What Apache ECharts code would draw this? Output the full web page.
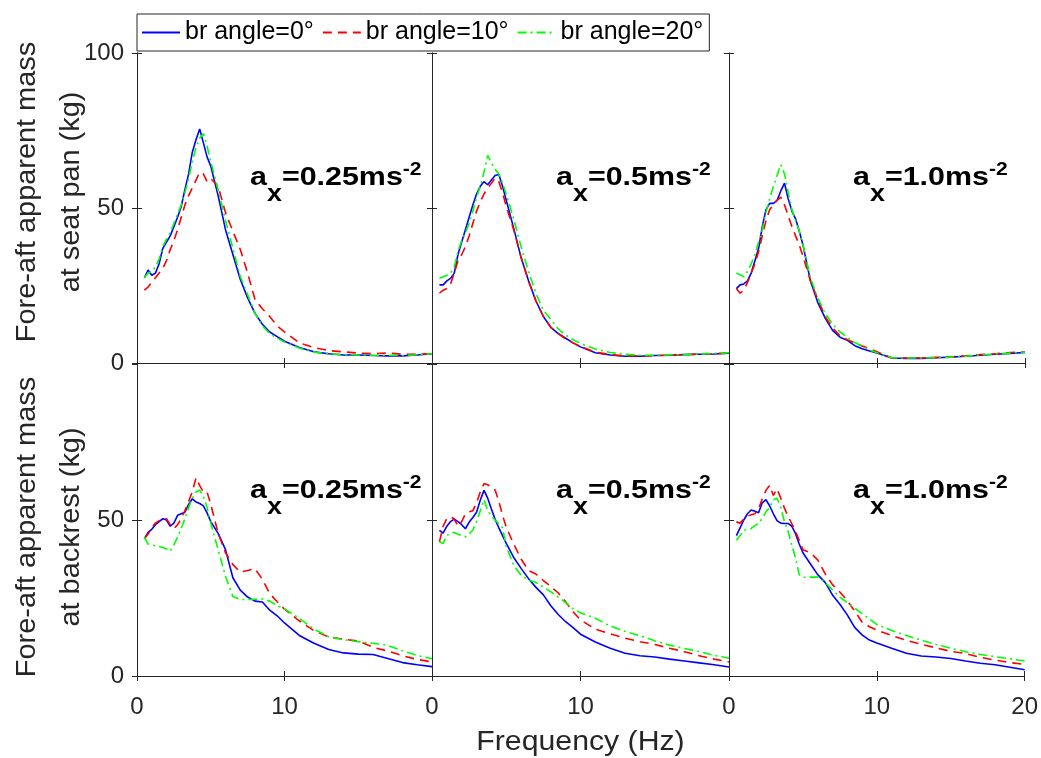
<!DOCTYPE html>
<html>
<head>
<meta charset="utf-8">
<script src="https://cdn.jsdelivr.net/npm/echarts@6/dist/echarts.min.js"></script>
<style>
html,body{margin:0;padding:0;background:#fff;}
#chart{width:1041px;height:758px;}
</style>
</head>
<body>
<div id="chart"></div>
<script>
// ---- data ----
const freq = [0.5,0.75,1,1.25,1.5,1.75,2,2.25,2.5,2.75,3,3.25,3.5,3.75,4,4.25,4.5,4.75,5,5.5,6,6.5,7,7.5,8,8.5,9,9.5,10,11,12,13,14,15,16,17,18,19,20];
const legendNames = ['br angle=0°','br angle=10°','br angle=20°'];
const accelLabels = ['0.25','0.5','1.0'];
const yAxisNames = ['Fore-aft apparent mass\nat seat pan (kg)','Fore-aft apparent mass\nat backrest (kg)'];
const xAxisName = 'Frequency (Hz)';

// seat pan, a = 0.25
const seat025_br0  = [27.5,30,28.3,29,32,37,39,41,44,47,50.5,56,61,68,72,75.5,71,66.5,63.5,54,43,35,27,21,16,12.5,10,8.5,7,5,3.6,3,2.6,2.6,2.4,2.3,2.3,2.6,3];
const seat025_br10 = [23.5,24.5,26,27.5,29,30.5,33,36.5,39.5,43,47,51,54,56.5,59,61.5,61,58.5,59.5,57,48.5,42.5,36.7,29,20.5,17.5,15,12,10,6.5,5,4,3.6,3.2,3,3.2,2.8,2.8,3];
const seat025_br20 = [27.5,29,29.5,31,33.5,37.5,40,42,45,48,51,55,59.5,65,69.5,72.5,74,70,65,56,46,37,28,22,16,12,9.5,8,6.8,4.8,3.5,3,2.7,2.6,2.5,2.5,2.4,2.6,3];
// seat pan, a = 0.5
const seat05_br0  = [25.2,25.2,26.5,27.3,29,35,39,43,47,51,54.5,57,58.5,57.5,59,60.5,60.8,57,52.5,43.5,34,26.5,20,15,11.5,9.5,8,6.5,5.2,3.3,2.6,2.2,2.2,2.4,2.5,2.7,2.8,2.9,3.2];
const seat05_br10 = [22.5,23.5,24,25.5,29,33,35,37.5,41,45,49,52,54.5,56.5,58,59.6,58.5,55,50.5,43,34,26.5,20,15,11.5,9.5,7.8,6.5,5.3,3.5,2.7,2.3,2.3,2.4,2.5,2.7,2.9,3,3.2];
const seat05_br20 = [27.3,27.8,28.3,29,31,36,39.5,42,45,49,53.5,57,61.5,67,64.5,62.5,61,58,54.5,46.5,37.5,29.5,22.5,17,14,11,9,7.5,6.3,4.5,3.4,2.8,2.5,2.5,2.6,2.7,2.9,3.1,3.3];
// seat pan, a = 1.0
const seat10_br0  = [24,25.2,25.5,26.5,29,33,37,44,49.5,51.5,51.5,52.5,55.5,58,53,49,46.5,42.5,38,26.5,19.5,14.5,10.5,8.3,7.3,5.6,4.6,3.9,3.2,1.6,1.5,1.5,1.7,1.9,2.2,2.5,2.8,3.1,3.4];
const seat10_br10 = [24,22.5,23.5,26,29,32,36,41,46,49.5,51,52.5,53.5,51,47.5,44,41,38,34.5,26.5,20.5,15,11.3,8.8,7.5,6.5,5.5,4.6,3.6,1.6,1.6,1.6,1.8,2,2.3,2.7,3,3.4,3.6];
const seat10_br20 = [29,28.5,27.8,29.5,32,35,39,43,48.5,53,57,60.5,64,61,55,49.5,46,42.5,38,27.5,21,16,12.5,10,8.3,6.6,5.4,4.2,3.3,1.7,1.6,1.6,1.7,1.9,2.2,2.6,2.9,3.2,3.5];
// backrest, a = 0.25
const back025_br0  = [44,46,47,48.5,49.5,50.4,50,48,49,51.5,52,52.5,55,56.8,55.8,55.3,54.5,52.3,49.5,45.7,40.5,31.5,27.5,25.3,24,23.7,21.1,19.3,17,13,10.5,8.5,7.4,7,6.9,5.6,4.3,3.6,3];
const back025_br10 = [44,45.5,47.5,49,49.8,50.2,50.4,48.5,47.2,48.5,50.5,53,56,59,63.5,61,59,59,55,45.8,39.5,35.7,33.3,33.8,34.4,31,26.4,23.8,21.4,17.7,14.5,12.5,11.8,11.2,9.2,8,6.5,5.3,4.5];
const back025_br20 = [44.5,42.3,42,41.7,41.5,41.2,40.7,40,42,44.5,47.3,50.5,54,57,59,59.6,57.5,54,49,40.5,32,25.5,24.5,24.5,24.6,24.7,24,22.6,21.5,18.5,15,12.6,11.6,11,10.5,9.8,8.1,6.6,5.5];
// backrest, a = 0.5
const back05_br0  = [46.7,45.8,48,49.5,50.3,49.5,48.5,47.2,49.3,50.8,52.5,56.3,59.5,57,53.5,50.2,47.5,45,42.5,38,34.5,31.2,28.4,26,22.5,19.7,17.4,15.5,13.4,10.9,8.9,7.3,6.5,6.1,5.4,4.8,4.2,3.6,2.9];
const back05_br10 = [43,48,50.5,51,50.3,48,49.5,52,52.6,53,55.5,59,61.7,61.3,60.6,59.6,56,51.5,47.7,42.3,37.5,33.8,32.7,30.6,28.7,26.6,23.8,20.6,18,15,13.5,12.1,11,10.1,8.9,7.8,6.5,5.4,4.5];
const back05_br20 = [43,42.5,45,45.8,46,45.4,45,44.6,45.5,46.8,49.5,53,56.5,53,51.2,50,48.8,47.5,41.5,35.5,32.3,30.8,30,28.5,27,25.3,23.5,21.5,20.3,18.5,16,14.3,12.9,11.3,9.9,8.8,7.8,6.6,5.7];
// backrest, a = 1.0
const back10_br0  = [45,47.5,50,52,53.2,52.8,52.3,55.5,56.5,54.5,52,49.8,49,48.9,48.9,48,45.6,42.3,39.5,36,32.5,30,26,23,19.6,15.6,13.2,11.5,10.6,8.9,7.3,6.4,6.1,5.6,4.8,4.1,3.6,2.8,2];
const back10_br10 = [49.4,49,50.3,51.2,51.7,52,53.5,56.8,59.5,61.1,57.9,60,57,53.8,51.2,48.8,46.3,43.5,40.5,39.5,37.2,32.8,29.3,26.9,24.2,20.8,17.3,15.8,14.7,13,11.4,10.2,9,7.9,7.2,6,5.1,4.3,3.7];
const back10_br20 = [43.5,45,46.7,47,47.3,48.2,49,50.5,52.6,54,56.5,57,54,49.5,46.3,42,37.8,32.5,31.6,31.7,31.7,30,27.6,25.3,23.5,21.8,20,18.3,16.5,14.6,13,11.5,10.1,8.9,7.8,6.9,6.2,5.5,4.8];

const panels = [
  [seat025_br0, seat025_br10, seat025_br20],
  [seat05_br0,  seat05_br10,  seat05_br20],
  [seat10_br0,  seat10_br10,  seat10_br20],
  [back025_br0, back025_br10, back025_br20],
  [back05_br0,  back05_br10,  back05_br20],
  [back10_br0,  back10_br10,  back10_br20]
];

// ---- layout / style ----
const FONT = '"Liberation Sans", Arial, Helvetica, sans-serif';
const AX = '#262626';
const lefts = [137, 432, 729], widths = [295, 297, 296];
const tops = [53, 364], heights = [310, 312];
const yTitleCenters = [192, 527];
const colors = ['#0000ff', '#ff0000', '#00ff00'];
const lineStyles = [
  {color:colors[0], width:1.6, type:'solid'},
  {color:colors[1], width:1.6, type:[9,6]},
  {color:colors[2], width:1.6, type:[9,4,2,4]}
];

const grids = [], xAxes = [], yAxes = [], series = [], graphics = [];
const axisLine = {show:true, lineStyle:{color:AX, width:1}};
const axisTick = {show:true, inside:true, length:5, lineStyle:{color:AX, width:1}};

for (let r = 0; r < 2; r++) {
  for (let c = 0; c < 3; c++) {
    const p = r*3 + c;
    grids.push({left:lefts[c], top:tops[r], width:widths[c], height:heights[r]});
    xAxes.push({
      type:'value', gridIndex:p, position:'bottom', min:0, max:20, interval:10,
      axisLine, axisTick, splitLine:{show:false},
      axisLabel:{show:r===1, showMaxLabel:c===2, fontSize:24, color:AX, margin:19, fontFamily:FONT}
    });
    xAxes.push({
      type:'value', gridIndex:p, position:'top', min:0, max:20, interval:10,
      axisLine, axisTick, splitLine:{show:false}, axisLabel:{show:false}
    });
    yAxes.push({
      type:'value', gridIndex:p, position:'left', min:0, max:100, interval:50,
      axisLine, axisTick, splitLine:{show:false},
      axisLabel:{show:c===0, showMaxLabel:r===0, fontSize:24, color:AX, margin:13, fontFamily:FONT}
    });
    yAxes.push({
      type:'value', gridIndex:p, position:'right', min:0, max:100, interval:50,
      axisLine, axisTick, splitLine:{show:false}, axisLabel:{show:false}
    });
    for (let s = 0; s < 3; s++) {
      series.push({
        type:'line', name:legendNames[s], xAxisIndex:2*p, yAxisIndex:2*p,
        data:freq.map((f, i) => [f, panels[p][s][i]]),
        showSymbol:false, symbol:'none', itemStyle:{color:colors[s]},
        lineStyle:lineStyles[s], z:3+s, animation:false
      });
    }
    // acceleration annotation
    graphics.push({
      type:'text', x:lefts[c] + [113, 124, 124][c], y:r===0 ? 178 : 491, z:100,
      scaleX:1.17,
      style:{
        text:'{m|a}{s|x}{m|=' + accelLabels[c] + 'ms}{p|-2}',
        align:'left', verticalAlign:'middle',
        rich:{
          m:{fontSize:26, fontWeight:'bold', fontFamily:FONT, fill:'#000', color:'#000', lineHeight:56, verticalAlign:'middle'},
          s:{fontSize:23, fontWeight:'bold', fontFamily:FONT, fill:'#000', color:'#000', verticalAlign:'bottom'},
          p:{fontSize:18, fontWeight:'bold', fontFamily:FONT, fill:'#000', color:'#000', verticalAlign:'top', padding:[11,0,0,0]}
        }
      }
    });
  }
  // y axis title for this row
  graphics.push({
    type:'text', x:50, y:yTitleCenters[r], rotation:Math.PI/2, scaleX:1.07, z:100,
    style:{
      text:yAxisNames[r], align:'center', verticalAlign:'middle',
      fontSize:27, lineHeight:44, fontFamily:FONT, fill:AX
    }
  });
}
// x axis title
graphics.push({
  type:'text', x:lefts[1] + widths[1]/2, y:743, scaleX:1.12, z:100,
  style:{text:xAxisName, align:'center', verticalAlign:'middle', fontSize:27, fontFamily:FONT, fill:AX}
});

const chart = echarts.init(document.getElementById('chart'), null, {renderer:'canvas'});
chart.setOption({
  backgroundColor:'#fff',
  animation:false,
  legend:{
    data:legendNames, left:137, top:14, orient:'horizontal',
    itemWidth:38, itemHeight:14, itemGap:8, padding:[6,6,6,4],
    borderColor:AX, borderWidth:1, backgroundColor:'#fff',
    itemStyle:{opacity:0},
    textStyle:{fontSize:25, color:'#000', fontFamily:FONT}, z:10
  },
  grid:grids, xAxis:xAxes, yAxis:yAxes, series:series, graphic:graphics
});
</script>
</body>
</html>
